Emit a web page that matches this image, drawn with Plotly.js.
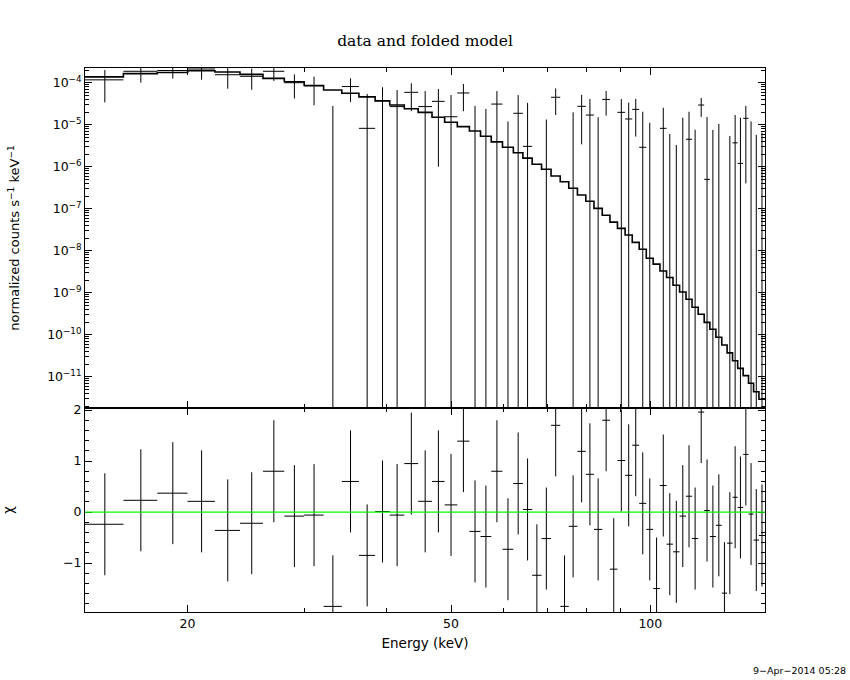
<!DOCTYPE html>
<html>
<head>
<meta charset="utf-8">
<script src="https://cdn.plot.ly/plotly-3.0.1.min.js"></script>
<style>
body { margin: 0; background: #fff; }
#spectrum { width: 850px; height: 680px; }
</style>
</head>
<body>
<div id="spectrum"></div>
<script>
// channel energy bounds (keV)
var eLo = [14.0, 16.0, 18.0, 20.0, 22.0, 24.0, 26.0, 28.0, 30.0, 32.1,
           34.2, 36.3, 38.4, 40.4, 42.5, 44.6, 46.8, 48.9, 51.1, 53.3,
           55.4, 57.5, 59.8, 62.1, 64.2, 66.3, 68.5, 70.8, 73.1, 75.3,
           77.6, 79.9, 82.2, 84.6, 86.9, 89.2, 91.6, 93.9, 96.2, 98.6,
           101.0, 103.4, 105.8, 108.2, 110.7, 113.2, 115.6, 118.1, 120.6, 123.0,
           125.6, 128.2, 130.6, 133.1, 135.5, 138.1, 140.7, 143.2, 145.9];
var eHi = [16.0, 18.0, 20.0, 22.0, 24.0, 26.0, 28.0, 30.0, 32.1, 34.2,
           36.3, 38.4, 40.4, 42.5, 44.6, 46.8, 48.9, 51.1, 53.3, 55.4,
           57.5, 59.8, 62.1, 64.2, 66.3, 68.5, 70.8, 73.1, 75.3, 77.6,
           79.9, 82.2, 84.6, 86.9, 89.2, 91.6, 93.9, 96.2, 98.6, 101.0,
           103.4, 105.8, 108.2, 110.7, 113.2, 115.6, 118.1, 120.6, 123.0, 125.6,
           128.2, 130.6, 133.1, 135.5, 138.1, 140.7, 143.2, 145.9, 149.0];

// normalized counts s^-1 keV^-1
var rate = [1.17e-4, 1.87e-4, 1.95e-4, 2.12e-4, 1.55e-4, 1.42e-4, 1.87e-4, 1.00e-4, 8.4e-5, -1.81e-5,
            8.1e-5, 8.2e-6, 3.74e-5, 2.7e-5, 5.9e-5, 2.7e-5, 3.6e-5, 1.55e-5, 5.7e-5, -5.7e-6,
            -1.17e-5, 3.1e-5, -2.1e-5, 1.87e-5, 3.05e-6, -3.6e-5, -1.27e-5, 4.5e-5, -5.2e-5, -7.3e-6,
            2.74e-5, 1.7e-5, -7.9e-6, 4.0e-5, -2.46e-5, 1.97e-5, 1.37e-5, 2.32e-5, 2.9e-6, -5.7e-6,
            -2.48e-5, 8.2e-6, -1.02e-5, -1.27e-5, -1.3e-6, 4.5e-6, -8.2e-6, 2.94e-5, 5e-7, -6.9e-6,
            -3.6e-6, -2.23e-5, -8.4e-6, 3.7e-6, 1.2e-6, 1.42e-5, -5e-7, -7.0e-6, -6.0e-6];
var rateErr = [8.3e-5, 8.7e-5, 7.0e-5, 9.4e-5, 8.3e-5, 7.4e-5, 7.7e-5, 5.8e-5, 5.5e-5, 4.6e-5,
               4.6e-5, 4.6e-5, 4.06e-5, 4.0e-5, 3.8e-5, 3.6e-5, 3.5e-5, 3.55e-5, 3.6e-5, 3.37e-5,
               3.54e-5, 3.2e-5, 3.3e-5, 3.2e-5, 3.0e-5, 3.0e-5, 2.6e-5, 2.8e-5, 2.8e-5, 2.7e-5,
               2.4e-5, 2.4e-5, 2.3e-5, 2.35e-5, 2.2e-5, 2.1e-5, 1.97e-5, 1.8e-5, 1.75e-5, 1.68e-5,
               1.65e-5, 1.72e-5, 1.62e-5, 1.6e-5, 1.6e-5, 1.59e-5, 1.58e-5, 1.4e-5, 1.48e-5, 1.44e-5,
               1.4e-5, 1.4e-5, 1.38e-5, 1.33e-5, 1.35e-5, 1.38e-5, 1.25e-5, 1.27e-5, 1.25e-5];
var model = [1.38e-4, 1.65e-4, 1.75e-4, 1.92e-4, 1.80e-4, 1.58e-4, 1.27e-4, 1.05e-4, 8.6e-5, 6.7e-5,
             5.6e-5, 4.6e-5, 3.7e-5, 2.94e-5, 2.4e-5, 1.97e-5, 1.5e-5, 1.14e-5, 9.0e-6, 7.1e-6,
             5.3e-6, 3.9e-6, 2.9e-6, 2.15e-6, 1.6e-6, 1.14e-6, 8.7e-7, 6.0e-7, 4.4e-7, 3.06e-7,
             2.12e-7, 1.5e-7, 1.02e-7, 6.97e-8, 4.8e-8, 3.4e-8, 2.36e-8, 1.58e-8, 1.08e-8, 6.6e-9,
             4.8e-9, 3.3e-9, 2.3e-9, 1.5e-9, 1.04e-9, 7.0e-10, 4.5e-10, 3.06e-10, 1.97e-10, 1.35e-10,
             8.7e-11, 5.7e-11, 3.7e-11, 2.4e-11, 1.58e-11, 1.06e-11, 7.0e-12, 4.4e-12, 2.9e-12];

// residuals (chi)
var chi = [-0.24, 0.23, 0.37, 0.21, -0.36, -0.22, 0.80, -0.08, -0.06, -1.85,
           0.60, -0.85, 0.01, -0.06, 0.95, 0.21, 0.60, 0.14, 1.39, -0.38,
           -0.48, 0.80, -0.73, 0.56, 0.05, -1.24, -0.52, 1.70, -1.85, -0.28,
           1.19, 0.74, -0.34, 1.80, -1.12, 1.01, 0.72, 1.31, 0.17, -0.34,
           -1.50, 0.52, -0.63, -0.78, -0.08, 0.31, -0.52, 1.96, 0.03, -0.48,
           -0.26, -1.59, -0.61, 0.29, 0.09, 1.13, -0.04, -0.55, -0.46];
var chiErr = [1, 1, 1, 1, 1, 1, 1, 1, 1, 1, 1, 1, 1, 1, 1, 1, 1, 1, 1, 1,
              1, 1, 1, 1, 1, 1, 1, 1, 1, 1, 1, 1, 1, 1, 1, 1, 1, 1, 1, 1,
              1, 1, 1, 1, 1, 1, 1, 1, 1, 1, 1, 1, 1, 1, 1, 1, 1, 1, 1];

var rateTicks = [1e-11, 1e-10, 1e-9, 1e-8, 1e-7, 1e-6, 1e-5, 1e-4];
var rateTickText = ['10<sup>\u221211</sup>', '10<sup>\u221210</sup>', '10<sup>\u22129</sup>', '10<sup>\u22128</sup>',
                    '10<sup>\u22127</sup>', '10<sup>\u22126</sup>', '10<sup>\u22125</sup>', '10<sup>\u22124</sup>'];
var energyTicks = [20, 50, 100];
var energyTickText = ['20', '50', '100'];
var energyMinor = [30, 40, 60, 70, 80, 90];
var chiTicks = [-1, 0, 1, 2];
var chiTickText = ['\u22121', '0', '1', '2'];

var eMid = [], dxPlus = [], dxMinus = [];
for (var i = 0; i < eLo.length; i++) {
    eMid.push((eLo[i] + eHi[i]) / 2);
    dxPlus.push(eHi[i] - eMid[i]);
    dxMinus.push(eMid[i] - eLo[i]);
}

// positive points get a full cross; negative ones (off a log axis)
// only show the part of the error bar above zero
var posX = [], posY = [], posErr = [], posDxP = [], posDxM = [];
var negX = [], negTop = [], negSpan = [];
for (var j = 0; j < rate.length; j++) {
    if (rate[j] > 0) {
        posX.push(eMid[j]); posY.push(rate[j]); posErr.push(rateErr[j]);
        posDxP.push(dxPlus[j]); posDxM.push(dxMinus[j]);
    } else if (rate[j] + rateErr[j] > 0) {
        negX.push(eMid[j]);
        negTop.push(rate[j] + rateErr[j]);
        negSpan.push(2 * rateErr[j]);
    }
}

var stepX = eLo.concat([eHi[eHi.length - 1]]);
var stepY = model.concat([model[model.length - 1]]);

var rateMinor = [];
for (var d = -12; d <= -4; d++) {
    for (var k = 2; k <= 9; k++) rateMinor.push(k * Math.pow(10, d));
}

var FONT = 'DejaVu Sans, Liberation Sans, sans-serif';

var dataTrace = {x: posX, y: posY, xaxis: 'x2', yaxis: 'y2',
                 type: 'scatter', mode: 'markers',
                 marker: {size: 2, opacity: 0},
                 error_x: {type: 'data', symmetric: false, array: posDxP, arrayminus: posDxM,
                           width: 0, thickness: 1, color: '#000'},
                 error_y: {type: 'data', array: posErr, width: 0, thickness: 1, color: '#000'}};

var negTrace = {x: negX, y: negTop, xaxis: 'x2', yaxis: 'y2',
                type: 'scatter', mode: 'markers',
                marker: {size: 2, opacity: 0},
                error_y: {type: 'data', symmetric: false, array: negX.map(function () { return 0; }),
                          arrayminus: negSpan, width: 0, thickness: 1, color: '#000'}};

var modelTrace = {x: stepX, y: stepY, xaxis: 'x2', yaxis: 'y2',
                  type: 'scatter', mode: 'lines',
                  line: {shape: 'hv', color: '#000', width: 1.6}};

var chiTrace = {x: eMid, y: chi, xaxis: 'x', yaxis: 'y',
                type: 'scatter', mode: 'markers',
                marker: {size: 2, opacity: 0},
                error_x: {type: 'data', symmetric: false, array: dxPlus, arrayminus: dxMinus,
                          width: 0, thickness: 1, color: '#000'},
                error_y: {type: 'data', array: chiErr, width: 0, thickness: 1, color: '#000'}};

var frame = {showline: true, linecolor: '#000', linewidth: 1, mirror: 'ticks',
             ticks: 'inside', ticklen: 7, tickwidth: 1, tickcolor: '#000',
             showgrid: false, zeroline: false};

var layout = {
    width: 850, height: 680,
    paper_bgcolor: '#fff', plot_bgcolor: '#fff',
    showlegend: false,
    margin: {l: 85, r: 85, t: 68, b: 68},
    font: {family: FONT, size: 12, color: '#000'},
    title: {text: 'data and folded model', x: 0.5, xanchor: 'center',
            y: 0.941, yref: 'container', yanchor: 'middle',
            font: {family: 'DejaVu Serif, serif', size: 15.5, color: '#000'}},
    xaxis: Object.assign({}, frame, {
        type: 'log', range: [Math.log10(14), Math.log10(149)], anchor: 'y', domain: [0, 1],
        tickmode: 'array', tickvals: energyTicks, ticktext: energyTickText,
        minor: {tickmode: 'array', tickvals: energyMinor, ticks: 'inside', ticklen: 4, tickcolor: '#000'},
        tickfont: {size: 12.5},
        title: {text: 'Energy (keV)', font: {size: 13.5}, standoff: 8}
    }),
    xaxis2: Object.assign({}, frame, {
        type: 'log', range: [Math.log10(14), Math.log10(149)], anchor: 'y2', domain: [0, 1],
        matches: 'x', showticklabels: false,
        tickmode: 'array', tickvals: energyTicks,
        minor: {tickmode: 'array', tickvals: energyMinor, ticks: 'inside', ticklen: 4, tickcolor: '#000'}
    }),
    yaxis: Object.assign({}, frame, {
        domain: [0, 0.375], anchor: 'x', range: [-1.96, 2.04],
        tickmode: 'array', tickvals: chiTicks, ticktext: chiTickText,
        minor: {dtick: 0.2, ticks: 'inside', ticklen: 4, tickcolor: '#000'},
        tickfont: {size: 12.5},
        title: {text: '\u03c7', font: {size: 13.5}, standoff: 46}
    }),
    yaxis2: Object.assign({}, frame, {
        type: 'log', domain: [0.375, 1], anchor: 'x2',
        range: [Math.log10(1.8e-12), Math.log10(2.24e-4)],
        tickmode: 'array', tickvals: rateTicks, ticktext: rateTickText,
        minor: {tickmode: 'array', tickvals: rateMinor, ticks: 'inside', ticklen: 4, tickcolor: '#000'},
        tickfont: {size: 12.5},
        title: {text: 'normalized counts s<sup>\u22121</sup> keV<sup>\u22121</sup>', font: {size: 13}, standoff: 24}
    }),
    shapes: [{type: 'line', xref: 'x domain', yref: 'y', x0: 0, x1: 1, y0: 0, y1: 0,
              line: {color: '#00ff00', width: 1.2}}],
    annotations: [{text: '9\u2212Apr\u22122014 05:28', xref: 'paper', yref: 'paper',
                   x: 1.122, y: -0.107, xanchor: 'right', yanchor: 'middle',
                   showarrow: false, font: {size: 9.5}}]
};

var config = {displayModeBar: false, staticPlot: true};

Plotly.newPlot('spectrum', [modelTrace, dataTrace, negTrace, chiTrace], layout, config);
</script>
</body>
</html>
